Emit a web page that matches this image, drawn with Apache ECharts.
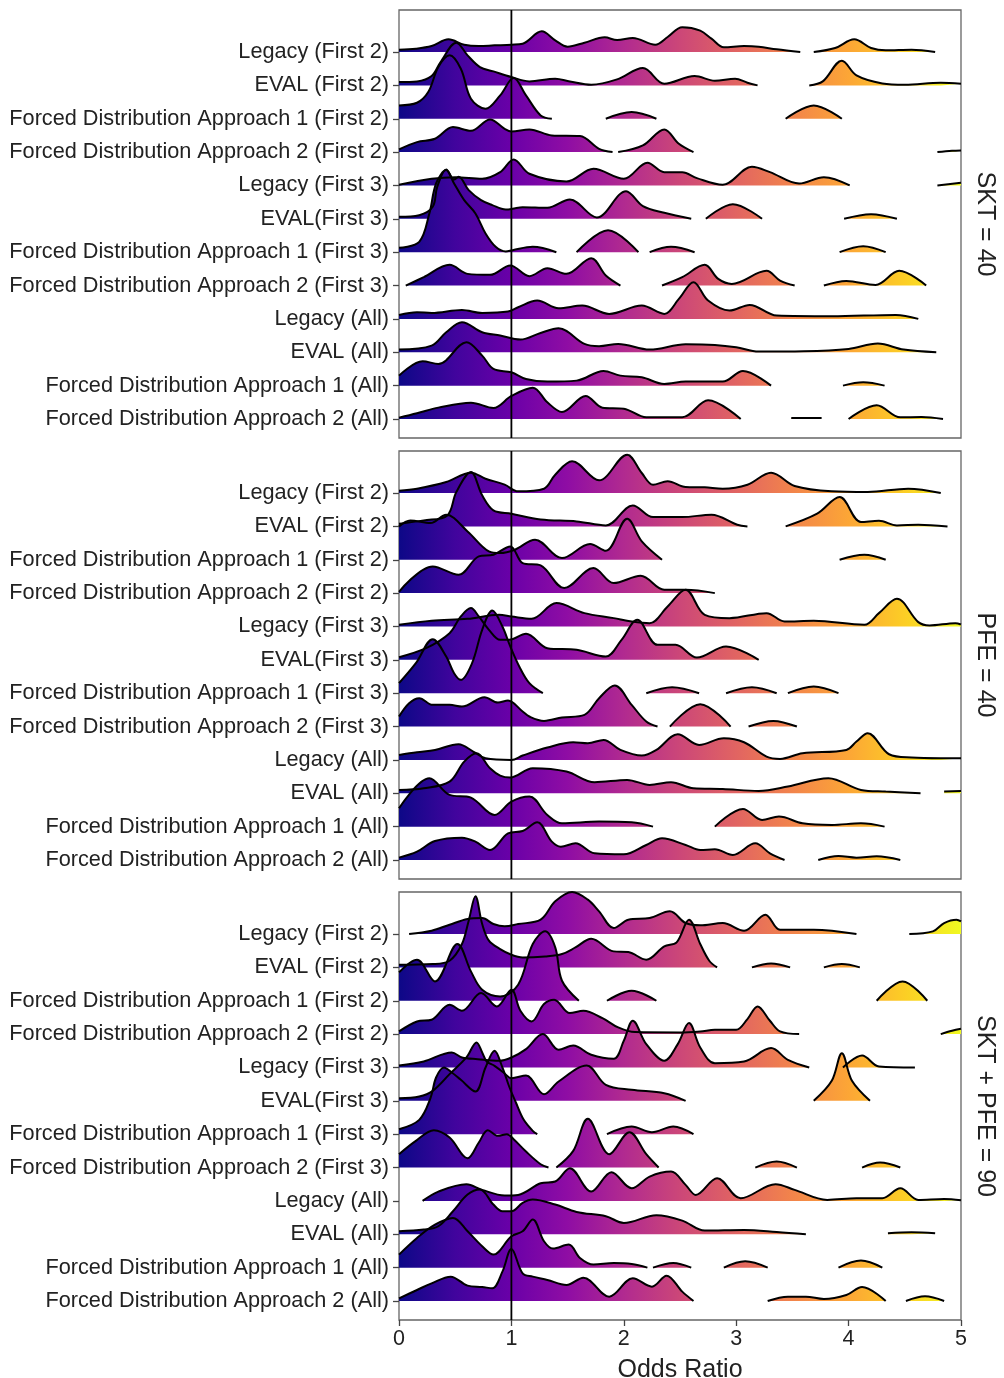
<!DOCTYPE html>
<html><head><meta charset="utf-8">
<script src="https://cdn.jsdelivr.net/npm/echarts@6/dist/echarts.min.js"></script>
<style>html,body{margin:0;padding:0;background:#fff}#c{width:1004px;height:1378px}</style>
</head><body><div id="c"></div>
<script>
const rowLabels = ['Legacy (First 2)','EVAL (First 2)','Forced Distribution Approach 1 (First 2)','Forced Distribution Approach 2 (First 2)','Legacy (First 3)','EVAL(First 3)','Forced Distribution Approach 1 (First 3)','Forced Distribution Approach 2 (First 3)','Legacy (All)','EVAL (All)','Forced Distribution Approach 1 (All)','Forced Distribution Approach 2 (All)'];
const panelLabels = ['SKT = 40','PFE = 40','SKT + PFE = 90'];
const xTicks = [0,1,2,3,4,5];
const refLineX = 1;
const xTitle = 'Odds Ratio';

// each ridge: [oddsRatio, density] points (density in row-spacing units); null = gap
const sktRidges = [
 [[0,.07],[.15,.1],[.29,.18],[.44,.38],[.58,.22],[.71,.18],[.85,.2],[1.0,.22],[1.1,.25],[1.27,.62],[1.39,.35],[1.5,.16],[1.65,.28],[1.83,.44],[1.94,.36],[2.08,.42],[2.28,.22],[2.39,.45],[2.52,.74],[2.68,.64],[2.78,.4],[2.89,.14],[3.07,.18],[3.2,.16],[3.36,.08],[3.57,0],null,[3.69,0],[3.88,.12],[4.05,.38],[4.2,.12],[4.33,.05],[4.56,.07],[4.77,0]],
 [[0,.1],[.16,.12],[.29,.28],[.37,.7],[.51,1.28],[.61,.9],[.72,.55],[.84,.42],[1.0,.25],[1.16,.12],[1.39,.2],[1.52,.12],[1.71,.02],[1.94,.18],[2.17,.52],[2.36,.05],[2.63,.28],[2.81,.14],[2.99,.2],[3.1,.08],[3.19,0],null,[3.65,0],[3.77,.12],[3.94,.74],[4.07,.3],[4.3,.06],[4.5,.02],[4.82,.08],[5,.05]],
 [[0,.4],[.16,.48],[.26,.8],[.35,1.55],[.45,1.9],[.55,1.5],[.64,.6],[.77,.3],[.9,.7],[1.02,1.22],[1.13,.7],[1.26,.1],[1.36,0],null,[1.84,0],[2.07,.2],[2.29,0],null,[3.44,0],[3.69,.4],[3.94,0]],
 [[0,.08],[.16,.3],[.32,.4],[.48,.75],[.64,.64],[.81,.98],[.94,.7],[1.0,.62],[1.16,.68],[1.36,.5],[1.61,.48],[1.78,.1],[1.9,0],null,[1.95,0],[2.17,.2],[2.36,.68],[2.49,.25],[2.62,0],null,[4.79,0],[4.92,.04],[5,.05]],
 [[0,.02],[.29,.2],[.5,.25],[.74,.2],[.9,.4],[1.02,.78],[1.16,.35],[1.49,.12],[1.73,.5],[2.0,.2],[2.21,.68],[2.36,.4],[2.52,.4],[2.65,.22],[2.88,.02],[3.14,.56],[3.3,.4],[3.56,.06],[3.78,.25],[4.01,0],null,[4.79,0],[5,.08]],
 [[0,.06],[.18,.11],[.3,.36],[.34,.96],[.42,1.48],[.49,1.18],[.53,1.26],[.62,.86],[.73,.56],[.83,.41],[.95,.28],[1.01,.3],[1.1,.35],[1.32,.33],[1.52,.58],[1.76,.04],[2.02,.83],[2.17,.38],[2.36,.18],[2.6,0],null,[2.73,0],[2.97,.44],[3.23,0],null,[3.96,0],[4.2,.14],[4.43,0]],
 [[0,.13],[.18,.31],[.27,1.16],[.33,2.06],[.42,2.46],[.49,2.06],[.58,1.56],[.68,1.16],[.77,.56],[.86,.16],[.95,.02],[1.01,.06],[1.19,.16],[1.4,0],null,[1.58,0],[1.86,.66],[2.13,0],null,[2.23,0],[2.42,.16],[2.63,0],null,[3.92,0],[4.13,.18],[4.33,0]],
 [[.06,0],[.22,.25],[.45,.62],[.61,.35],[.81,.32],[.99,.6],[1.16,.28],[1.32,.52],[1.49,.35],[1.71,.82],[1.84,.3],[1.97,0],null,[2.34,0],[2.52,.25],[2.72,.62],[2.84,.2],[2.96,.05],[3.27,.44],[3.39,.15],[3.52,0],null,[3.78,0],[3.98,.14],[4.24,.02],[4.45,.44],[4.69,0]],
 [[0,.12],[.16,.2],[.29,.18],[.56,.27],[.74,.18],[.97,.22],[1.06,.35],[1.23,.55],[1.42,.32],[1.63,.4],[1.87,.15],[2.16,.4],[2.36,.15],[2.49,.6],[2.62,1.1],[2.75,.55],[2.94,.25],[3.12,.42],[3.36,.1],[3.85,.08],[4.42,.12],[4.62,0]],
 [[0,.08],[.29,.2],[.42,.6],[.56,.9],[.74,.6],[.9,.5],[1.08,.38],[1.26,.58],[1.42,.72],[1.65,.25],[1.78,.18],[1.95,.25],[2.23,.08],[2.55,.24],[2.81,.22],[3.0,.15],[3.2,.02],[3.6,.03],[4.0,.1],[4.26,.26],[4.49,.08],[4.78,0]],
 [[0,.3],[.21,.73],[.35,.65],[.6,1.3],[.74,.9],[.84,.5],[1.0,.4],[1.13,.2],[1.32,.12],[1.58,.15],[1.82,.44],[1.97,.3],[2.16,.25],[2.36,.05],[2.55,.12],[2.88,.12],[3.06,.44],[3.31,0],null,[3.95,0],[4.13,.1],[4.32,0]],
 [[0,.04],[.16,.17],[.35,.34],[.64,.49],[.84,.33],[1.0,.69],[1.19,.94],[1.32,.5],[1.45,.21],[1.66,.69],[1.81,.34],[2.0,.31],[2.2,.05],[2.52,.05],[2.75,.56],[3.04,0],null,[3.49,.03],[3.76,.03],null,[4.0,0],[4.25,.41],[4.46,.05],[4.65,.06],[4.84,0]]
];
const pfeRidges = [
 [[0,.07],[.16,.13],[.42,.33],[.64,.61],[.77,.43],[.94,.25],[1.06,.05],[1.29,.13],[1.39,.55],[1.54,.95],[1.78,.38],[2.03,1.15],[2.16,.6],[2.26,.25],[2.39,.35],[2.55,.18],[2.72,.17],[2.88,.13],[3.1,.25],[3.31,.61],[3.52,.21],[3.85,.05],[4.17,.03],[4.53,.13],[4.82,0]],
 [[0,.08],[.22,.18],[.43,.33],[.51,1.03],[.64,1.63],[.74,.93],[.84,.48],[1.0,.38],[1.26,.21],[1.58,.15],[1.84,.03],[2.08,.63],[2.26,.28],[2.52,.28],[2.78,.35],[3.01,.05],[3.1,0],null,[3.44,0],[3.72,.38],[3.92,.88],[4.11,.13],[4.27,.17],[4.43,.03],[4.62,.05],[4.88,0]],
 [[0,1.0],[.1,1.18],[.28,1.1],[.42,1.35],[.61,.85],[.8,.25],[.9,.2],[1.03,.3],[1.21,.6],[1.45,.05],[1.7,.47],[1.84,.27],[2.03,1.23],[2.16,.55],[2.34,0],null,[3.92,0],[4.14,.15],[4.33,0]],
 [[0,.04],[.3,.8],[.53,.55],[.71,1.1],[.84,1.15],[.99,1.4],[1.1,.9],[1.26,.83],[1.47,.15],[1.73,.75],[1.91,.3],[2.15,.52],[2.36,.1],[2.55,.1],[2.81,0]],
 [[0,.05],[.29,.17],[.61,.23],[.89,.35],[1.0,.3],[1.18,.23],[1.4,.7],[1.65,.4],[1.91,.25],[2.07,.15],[2.23,.1],[2.39,.6],[2.55,1.1],[2.72,.35],[2.94,.25],[3.27,.4],[3.43,.15],[3.69,.17],[4.14,.05],[4.27,.4],[4.43,.83],[4.62,.13],[4.72,.03],[4.95,.1],[5,.06]],
 [[0,.08],[.24,.35],[.45,.8],[.55,1.3],[.64,1.55],[.71,1.3],[.8,.9],[.9,.6],[.98,.6],[1.13,.78],[1.32,.35],[1.58,.3],[1.84,.1],[1.98,.6],[2.12,1.2],[2.3,.45],[2.46,.45],[2.65,.07],[2.91,.4],[3.2,0]],
 [[0,.3],[.15,.9],[.3,1.62],[.42,1.1],[.49,.6],[.55,.4],[.65,.9],[.74,1.9],[.83,2.48],[.92,2.0],[.99,1.4],[1.07,.8],[1.16,.3],[1.28,0],null,[2.2,0],[2.43,.18],[2.67,0],null,[2.91,0],[3.14,.18],[3.36,0],null,[3.46,0],[3.69,.2],[3.91,0]],
 [[0,.3],[.09,.7],[.18,.85],[.3,.65],[.45,.65],[.56,.6],[.76,.88],[.88,.72],[.97,.78],[1.1,.45],[1.16,.3],[1.29,.17],[1.45,.27],[1.65,.35],[1.78,.85],[1.92,1.23],[2.07,.65],[2.2,.15],[2.3,0],null,[2.41,0],[2.68,.67],[2.95,0],null,[3.11,0],[3.33,.17],[3.54,0]],
 [[0,.15],[.16,.23],[.32,.3],[.53,.47],[.66,.25],[.77,.05],[1.0,0],[1.1,.13],[1.32,.37],[1.55,.53],[1.68,.5],[1.82,.6],[1.97,.3],[2.16,.13],[2.29,.3],[2.48,.77],[2.67,.45],[2.89,.65],[3.07,.53],[3.27,.1],[3.39,.03],[3.59,.2],[3.98,.3],[4.07,.55],[4.17,.8],[4.36,.17],[4.56,.07],[4.82,.05],[5,.05]],
 [[0,.1],[.22,.15],[.45,.35],[.58,.95],[.69,1.2],[.81,.75],[.9,.53],[.99,.47],[1.19,.75],[1.49,.65],[1.74,.33],[2.03,.4],[2.23,.25],[2.42,.33],[2.62,.15],[2.88,.13],[3.2,.07],[3.46,.2],[3.82,.45],[4.11,.1],[4.33,.05],[4.64,0],null,[4.85,.05],[5,.07]],
 [[0,.55],[.27,1.45],[.45,.95],[.64,.87],[.85,.35],[1.0,.75],[1.16,.9],[1.32,.35],[1.45,.1],[1.78,.15],[2.07,.13],[2.26,0],null,[2.81,0],[3.06,.53],[3.23,.2],[3.38,.3],[3.59,.1],[3.85,.05],[4.11,.1],[4.32,0]],
 [[0,.07],[.16,.25],[.32,.57],[.56,.67],[.68,.55],[.81,.3],[.97,.8],[1.1,.87],[1.23,1.13],[1.36,.55],[1.44,.4],[1.57,.5],[1.74,.2],[2.0,.17],[2.2,.45],[2.34,.65],[2.55,.45],[2.68,.3],[2.81,.32],[2.97,.15],[3.17,.5],[3.3,.2],[3.43,0],null,[3.73,0],[3.91,.12],[4.07,.07],[4.25,.11],[4.46,0]]
];
const bothRidges = [
 [[.09,0],[.29,.1],[.45,.28],[.61,.45],[.74,.48],[.84,.3],[.94,.23],[1.06,.3],[1.26,.43],[1.39,.98],[1.54,1.26],[1.68,1.03],[1.78,.68],[1.91,.18],[2.04,.43],[2.23,.48],[2.41,.68],[2.55,.33],[2.68,.26],[2.88,.33],[3.07,.1],[3.26,.58],[3.39,.13],[3.69,.13],[4.07,0],null,[4.54,0],[4.75,.08],[4.85,.33],[4.96,.43],[5,.38]],
 [[0,.08],[.3,.1],[.45,.2],[.56,.7],[.62,1.4],[.68,2.13],[.74,1.3],[.8,.8],[.9,.55],[1.0,.38],[1.1,.3],[1.3,.33],[1.45,.4],[1.57,.6],[1.71,.86],[1.91,.48],[2.04,.46],[2.2,.23],[2.36,.63],[2.47,.75],[2.58,1.43],[2.68,.7],[2.76,.2],[2.83,0],null,[3.14,0],[3.31,.12],[3.48,0],null,[3.78,0],[3.94,.1],[4.1,0]],
 [[0,.85],[.16,1.23],[.32,.58],[.52,1.7],[.64,.88],[.74,.33],[.9,.13],[1.06,.48],[1.19,1.7],[1.3,2.08],[1.39,1.6],[1.45,.6],[1.6,0],null,[1.85,0],[2.07,.3],[2.29,0],null,[4.25,0],[4.48,.58],[4.7,0]],
 [[0,.08],[.16,.38],[.29,.43],[.45,.88],[.56,.7],[.73,1.23],[.87,.83],[1.0,1.33],[1.08,.7],[1.18,.38],[1.29,.9],[1.38,1.03],[1.52,.63],[1.64,.7],[1.81,.48],[1.95,.2],[2.1,.06],[2.5,.05],[2.68,.08],[2.81,.13],[3.0,.13],[3.1,.45],[3.19,.83],[3.3,.4],[3.39,.08],[3.56,0],null,[4.82,0],[4.92,.1],[5,.16]],
 [[0,.06],[.22,.18],[.47,.45],[.56,.3],[.7,.25],[.89,.2],[1.0,.3],[1.13,.55],[1.28,1.0],[1.42,.53],[1.55,.66],[1.71,.38],[1.91,.26],[2.0,.8],[2.08,1.4],[2.2,.7],[2.36,.2],[2.48,.7],[2.58,1.33],[2.68,.6],[2.81,.13],[3.07,.18],[3.31,.58],[3.46,.23],[3.65,0],null,[3.95,0],[4.12,.36],[4.27,.03],[4.59,0]],
 [[0,.08],[.18,.13],[.3,.3],[.45,.8],[.6,1.3],[.69,1.75],[.74,1.45],[.78,1.18],[.85,1.05],[.93,.85],[1.0,.68],[1.13,.76],[1.29,.2],[1.42,.58],[1.67,1.06],[1.84,.48],[2.07,.33],[2.36,.23],[2.55,0],null,[3.69,0],[3.85,.6],[3.94,1.43],[4.03,.6],[4.19,0]],
 [[0,.15],[.18,.43],[.28,1.08],[.33,1.7],[.4,2.0],[.47,1.85],[.55,1.63],[.68,1.28],[.77,2.0],[.85,2.5],[.92,2.0],[.98,1.43],[1.04,.95],[1.11,.43],[1.19,.1],[1.23,0],null,[1.85,0],[2.07,.23],[2.25,.06],[2.44,.23],[2.62,0]],
 [[0,.4],[.15,.8],[.31,1.12],[.45,.9],[.61,.28],[.71,.75],[.79,1.12],[.88,.95],[.96,1.0],[1.02,.85],[1.13,.48],[1.26,.1],[1.33,0],null,[1.4,0],[1.55,.5],[1.68,1.46],[1.87,.4],[2.05,1.06],[2.2,.4],[2.31,0],null,[3.17,0],[3.36,.18],[3.54,0],null,[4.12,0],[4.28,.15],[4.46,0]],
 [[.21,0],[.35,.28],[.6,.5],[.74,.33],[.94,.16],[1.06,.18],[1.26,.53],[1.39,.58],[1.52,.98],[1.71,.28],[1.89,.86],[2.07,.38],[2.23,.73],[2.42,.88],[2.55,.48],[2.64,.18],[2.83,.68],[3.04,.08],[3.35,.5],[3.52,.33],[3.81,.03],[4.07,.08],[4.3,.08],[4.46,.38],[4.62,.03],[4.85,.06],[5,.02]],
 [[0,.09],[.22,.14],[.35,.24],[.48,.69],[.61,1.19],[.72,1.34],[.84,.89],[.92,.69],[1.0,.69],[1.1,.94],[1.19,1.04],[1.39,.89],[1.58,.67],[1.84,.54],[2.0,.34],[2.29,.57],[2.52,.41],[2.72,.11],[3.07,.13],[3.36,.07],[3.62,0],null,[4.35,.03],[4.56,.06],[4.77,.03]],
 [[0,.39],[.16,.89],[.32,1.29],[.48,1.49],[.61,1.09],[.74,.64],[.84,.39],[1.0,.94],[1.1,1.09],[1.19,1.44],[1.29,.79],[1.37,.57],[1.51,.69],[1.61,.29],[1.73,.09],[1.91,.14],[2.07,.11],[2.21,0],null,[2.26,0],[2.44,.14],[2.6,0],null,[2.89,0],[3.08,.19],[3.28,0],null,[3.91,0],[4.11,.21],[4.3,0]],
 [[0,.08],[.16,.33],[.29,.53],[.46,.73],[.61,.46],[.74,.42],[.83,.38],[.92,.88],[1.0,1.56],[1.1,.83],[1.19,.73],[1.32,.63],[1.49,.48],[1.64,.7],[1.87,.13],[2.08,.68],[2.25,.43],[2.38,.76],[2.52,.28],[2.62,0],null,[3.28,0],[3.46,.13],[3.62,.13],[3.78,.06],[3.98,.18],[4.12,.42],[4.33,0],null,[4.51,0],[4.68,.14],[4.85,0]]
];
const panelRidges = [sktRidges, pfeRidges, bothRidges];

// layout
const GL = 399, GW = 562, GH = 428;
const panelTops = [10, 451, 892];
const yMin = -0.57, yMax = 12.26;
const FONT = '"Liberation Sans", Arial, sans-serif';
const plasma = ['#0d0887','#41049d','#6a00a8','#8f0da4','#b12a90','#cc4778','#e16462','#f2844b','#fca636','#fcce25','#f0f921'];
const stops = plasma.map((c, i) => ({offset: i / (plasma.length - 1), color: c}));

const chart = echarts.init(document.getElementById('c'), null, {renderer: 'canvas'});
const grids = [], xAxes = [], yAxes = [], series = [], graphics = [];
const baseVals = rowLabels.map((_, r) => rowLabels.length - 1 - r);

panelRidges.forEach((ridges, p) => {
  const last = p === panelRidges.length - 1;
  grids.push({left: GL, top: panelTops[p], width: GW, height: GH, show: true, borderColor: '#666', borderWidth: 1.3,
    backgroundColor: 'transparent', containLabel: false, outerBoundsMode: 'none'});
  xAxes.push({type: 'value', gridIndex: p, min: xTicks[0], max: xTicks[xTicks.length - 1], interval: 1, position: 'bottom',
    splitLine: {show: false}, axisLine: {show: false, onZero: false},
    axisTick: {show: last, length: 6, lineStyle: {color: '#444', width: 1.3}},
    axisLabel: {show: last, fontSize: 21.5, color: '#222', margin: 8, fontFamily: FONT},
    name: last ? xTitle : '', nameLocation: 'middle', nameGap: 38,
    nameTextStyle: {fontSize: 25, color: '#222', fontFamily: FONT}});
  yAxes.push({type: 'value', gridIndex: p, min: yMin, max: yMax,
    splitLine: {show: false}, axisLine: {show: false, onZero: false},
    axisTick: {show: true, length: 6, customValues: baseVals, lineStyle: {color: '#444', width: 1.3}},
    axisLabel: {show: true, customValues: baseVals, fontSize: 21.7, color: '#222', margin: 10, fontFamily: FONT,
      formatter: v => rowLabels[rowLabels.length - 1 - Math.round(v)]}});
  const grad = new echarts.graphic.LinearGradient(GL, 0, GL + GW, 0, stops, true);
  ridges.forEach((pts, r) => {
    const base = baseVals[r];
    series.push({type: 'line', xAxisIndex: p, yAxisIndex: p, smooth: 0.35, symbol: 'none', silent: true,
      connectNulls: false, z: 2,
      lineStyle: {color: '#000', width: 2},
      areaStyle: {color: grad, opacity: 1, origin: base},
      data: pts.map(pt => pt === null ? ['-', '-'] : [pt[0], base + pt[1]])});
  });
  series.push({type: 'line', xAxisIndex: p, yAxisIndex: p, symbol: 'none', silent: true, z: 5,
    lineStyle: {color: '#000', width: 1.8}, data: [[refLineX, yMin], [refLineX, yMax]]});
  graphics.push({type: 'text', x: 985, y: panelTops[p] + GH / 2, rotation: -Math.PI / 2,
    style: {text: panelLabels[p], fontSize: 25, fill: '#222', fontFamily: FONT, align: 'center', verticalAlign: 'middle'}});
});

chart.setOption({animation: false, backgroundColor: '#fff', grid: grids, xAxis: xAxes, yAxis: yAxes, series: series, graphic: graphics});
</script></body></html>
